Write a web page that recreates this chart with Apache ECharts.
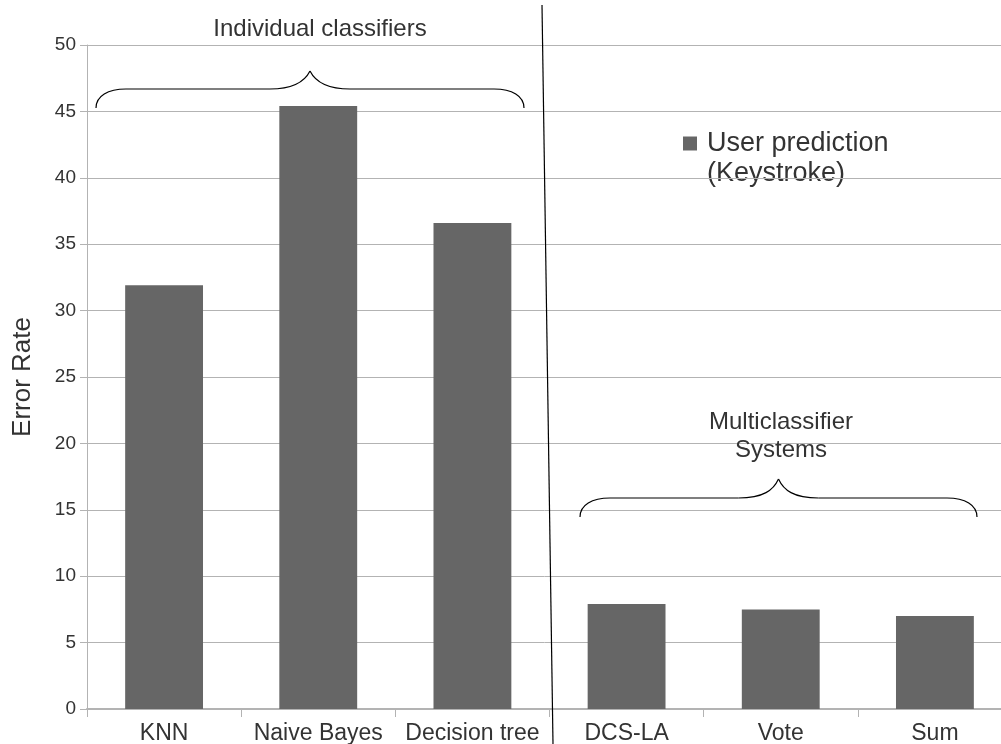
<!DOCTYPE html>
<html>
<head>
<meta charset="utf-8">
<script src="https://cdn.jsdelivr.net/npm/echarts@6/dist/echarts.min.js"></script>
<style>
	html, body { margin: 0; padding: 0; background: #fff; }
	#chart { width: 1001px; height: 744px; }
</style>
</head>
<body>
<div id="chart"></div>
<script>
const categories = ['KNN', 'Naive Bayes', 'Decision tree', 'DCS-LA', 'Vote', 'Sum'];
const errorRates = [31.9, 45.4, 36.6, 7.9, 7.5, 7.0];
const seriesName = 'User prediction (Keystroke)';
const yTicks = { min: 0, max: 50, interval: 5 };

const font = 'Liberation Sans, Arial, sans-serif',
	grey = '#b3b3b3',
	ink = '#333';

// curly brace drawn from left end (x0) to right end (x1), ends at yEnd, bar at yBar, tip at yTip
const brace = (x0, x1, yEnd, yBar, yTip) => {
	const mid = (x0 + x1) / 2,
		r = 30,
		stroke = { stroke: '#000', fill: null, lineWidth: 1.2 },
		bez = (a, b, c, d) => ({
			type: 'bezierCurve', z: 100, style: stroke,
			shape: { x1: a[0], y1: a[1], cpx1: b[0], cpy1: b[1], cpx2: c[0], cpy2: c[1], x2: d[0], y2: d[1] }
		}),
		line = (a, b) => ({
			type: 'line', z: 100, style: stroke,
			shape: { x1: a[0], y1: a[1], x2: b[0], y2: b[1] }
		});
	return [
		bez([x0, yEnd], [x0, yBar + 7], [x0 + 12, yBar], [x0 + r, yBar]),
		line([x0 + r, yBar], [mid - 40, yBar]),
		bez([mid - 40, yBar], [mid - 15, yBar], [mid - 5, yBar - 8], [mid, yTip]),
		bez([mid, yTip], [mid + 5, yBar - 8], [mid + 15, yBar], [mid + 40, yBar]),
		line([mid + 40, yBar], [x1 - r, yBar]),
		bez([x1 - r, yBar], [x1 - 12, yBar], [x1, yBar + 7], [x1, yEnd])
	];
};

const chart = echarts.init(document.getElementById('chart'));

chart.setOption({
	animation: false,
	textStyle: { fontFamily: font },
	grid: { left: 87, width: 925, top: 45, bottom: 35, outerBoundsMode: 'none', containLabel: false },
	title: [
		{
			text: 'Individual classifiers',
			left: 315, top: 12, textAlign: 'center',
			textStyle: { fontSize: 24, fontWeight: 'normal', color: ink, fontFamily: font }
		},
		{
			text: 'Multiclassifier\nSystems',
			left: 776, top: 403, textAlign: 'center',
			textStyle: { fontSize: 24, fontWeight: 'normal', color: ink, fontFamily: font, lineHeight: 28 }
		}
	],
	legend: {
		left: 683, top: 130, padding: 0,
		itemWidth: 14, itemHeight: 14, itemGap: 8,
		icon: 'rect',
		formatter: () => 'User prediction',
		textStyle: { fontSize: 27, color: ink, fontFamily: font, padding: [0, 0, 0, 5] }
	},
	xAxis: {
		type: 'category',
		data: categories,
		axisLine: { lineStyle: { color: grey, width: 2 } },
		axisTick: { show: true, interval: 0, length: 8, lineStyle: { color: grey } },
		axisLabel: { interval: 0, fontSize: 23, color: ink, margin: 13 }
	},
	yAxis: {
		type: 'value',
		min: yTicks.min, max: yTicks.max, interval: yTicks.interval,
		name: 'Error Rate',
		nameLocation: 'middle',
		nameGap: 51,
		nameTextStyle: { fontSize: 26, color: ink, fontFamily: font },
		axisLine: { show: true, lineStyle: { color: grey } },
		axisTick: { show: true, length: 7, lineStyle: { color: grey } },
		axisLabel: { fontSize: 19, color: ink, margin: 11 },
		splitLine: { lineStyle: { color: grey } }
	},
	series: [{
		name: seriesName,
		type: 'bar',
		data: errorRates,
		barWidth: '50.5%',
		itemStyle: { color: '#666666' }
	}],
	graphic: [
		{
			type: 'text',
			x: 707, y: 160,
			style: { text: '(Keystroke)', fontSize: 27, fill: ink, fontFamily: font }
		},
		{
			type: 'line',
			shape: { x1: 542, y1: 5, x2: 553, y2: 744 },
			style: { stroke: '#000', lineWidth: 1.2 },
			z: 100
		},
		...brace(96, 524, 108, 89, 71),
		...brace(580, 977, 517, 498, 479)
	]
});
</script>
</body>
</html>
